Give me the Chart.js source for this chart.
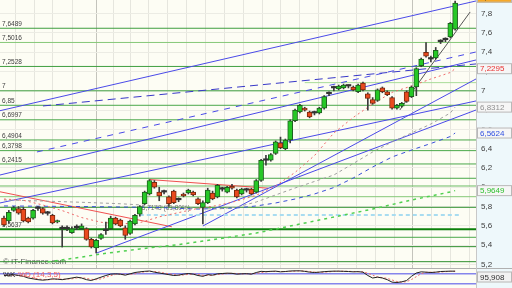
<!DOCTYPE html>
<html>
<head>
<meta charset="utf-8">
<script src="https://cdn.jsdelivr.net/npm/chart.js@4.4.1/dist/chart.umd.min.js"></script>
<style>
    html, body { margin: 0; padding: 0; background: #eef8fb; }
    #wrap { position: relative; width: 512px; height: 288px; overflow: hidden; }
    #main { position: absolute; left: 0; top: 0; }
    #osc { position: absolute; left: 0; top: 268px; }
</style>
</head>
<body>
<div id="wrap">
    <canvas id="main" width="512" height="268"></canvas>
    <canvas id="osc" width="512" height="20"></canvas>
</div>
<script>
// candle index range shown on the x axis, price range on the y axis
const X_MIN = -0.82;
const X_MAX = 97.3;
const Y_MIN = 5.1625;
const Y_MAX = 7.942;

const opens = [5.68, 5.65, 5.76, 5.78, 5.77, 5.68, 5.68, 5.78, 5.78, 5.73,
    5.71, 5.64, 5.57, 5.57, 5.53, 5.58, 5.57, 5.57, 5.46, 5.37,
    5.47, 5.55, 5.57, 5.68, 5.66, 5.58, 5.52, 5.62, 5.72, 5.83,
    5.93, 6.05, 5.95, 5.95, 5.90, 5.96, 5.87, 5.93, 5.94, 5.95,
    5.88, 5.79, 5.84, 5.94, 5.90, 5.98, 5.95, 6.01, 5.97, 5.93,
    5.97, 5.98, 5.95, 6.07, 6.28, 6.28, 6.35, 6.46, 6.40, 6.49,
    6.69, 6.78, 6.82, 6.78, 6.77, 6.77, 6.82, 6.97, 7.03, 7.02,
    7.03, 7.05, 7.04, 6.99, 7.08, 6.97, 6.91, 6.90, 7.03, 6.99,
    6.93, 6.82, 6.84, 6.99, 6.94, 7.04, 7.26, 7.40, 7.33, 7.34,
    7.51, 7.53, 7.56, 7.64];
const highs = [5.70, 5.76, 5.80, 5.80, 5.79, 5.69, 5.77, 5.80, 5.79, 5.75,
    5.72, 5.66, 5.60, 5.60, 5.59, 5.61, 5.62, 5.58, 5.47, 5.46,
    5.52, 5.64, 5.70, 5.69, 5.67, 5.60, 5.66, 5.72, 5.81, 5.96,
    6.08, 6.07, 6.00, 5.97, 5.91, 5.97, 5.89, 5.94, 5.98, 5.96,
    5.89, 5.86, 5.99, 5.96, 6.03, 6.00, 6.01, 6.03, 5.98, 5.99,
    5.99, 5.99, 6.08, 6.29, 6.33, 6.35, 6.48, 6.52, 6.50, 6.70,
    6.81, 6.86, 6.83, 6.79, 6.79, 6.83, 6.95, 6.99, 7.05, 7.06,
    7.07, 7.06, 7.05, 7.07, 7.09, 6.98, 6.93, 7.02, 7.04, 7.00,
    6.94, 6.86, 6.88, 7.00, 7.05, 7.24, 7.34, 7.50, 7.36, 7.45,
    7.53, 7.55, 7.71, 7.93];
const lows = [5.60, 5.63, 5.75, 5.72, 5.64, 5.63, 5.67, 5.76, 5.72, 5.71,
    5.62, 5.63, 5.38, 5.55, 5.52, 5.56, 5.56, 5.45, 5.37, 5.32,
    5.46, 5.51, 5.56, 5.61, 5.59, 5.46, 5.51, 5.61, 5.70, 5.82,
    5.92, 5.99, 5.86, 5.93, 5.80, 5.83, 5.85, 5.90, 5.93, 5.91,
    5.82, 5.62, 5.83, 5.87, 5.89, 5.96, 5.94, 5.98, 5.89, 5.92,
    5.95, 5.92, 5.94, 6.06, 6.23, 6.27, 6.34, 6.40, 6.39, 6.46,
    6.68, 6.77, 6.79, 6.72, 6.75, 6.76, 6.81, 6.95, 7.00, 7.01,
    7.02, 7.03, 7.00, 6.98, 7.00, 6.80, 6.86, 6.89, 6.98, 6.95,
    6.81, 6.81, 6.83, 6.88, 6.93, 6.95, 7.25, 7.35, 7.30, 7.33,
    7.49, 7.51, 7.55, 7.63];
const closes = [5.61, 5.74, 5.79, 5.73, 5.65, 5.64, 5.76, 5.78, 5.73, 5.73,
    5.63, 5.65, 5.57, 5.57, 5.57, 5.58, 5.60, 5.46, 5.38, 5.45,
    5.51, 5.55, 5.68, 5.62, 5.60, 5.50, 5.65, 5.71, 5.80, 5.95,
    6.07, 6.00, 5.91, 5.95, 5.83, 5.84, 5.87, 5.91, 5.97, 5.92,
    5.83, 5.84, 5.97, 5.88, 6.02, 5.98, 6.00, 5.99, 5.90, 5.98,
    5.97, 5.93, 6.07, 6.28, 6.28, 6.34, 6.47, 6.41, 6.49, 6.69,
    6.80, 6.85, 6.80, 6.73, 6.77, 6.82, 6.94, 6.97, 7.03, 7.05,
    7.06, 7.05, 7.01, 7.06, 7.01, 6.92, 6.87, 7.01, 6.99, 6.96,
    6.82, 6.85, 6.87, 6.89, 7.04, 7.23, 7.33, 7.36, 7.33, 7.42,
    7.51, 7.53, 7.70, 7.91];

// moving averages, read at some candle indices
const maRedIdx = [0, 4, 8, 12, 16, 20, 24, 28, 32, 36, 40, 44, 48, 52, 56, 60, 64, 68, 72, 76, 80, 84, 88, 92, 93];
const maRedVal = [5.878, 5.865, 5.816, 5.758, 5.686, 5.637, 5.619, 5.633, 5.693, 5.737, 5.781, 5.811, 5.857,
    5.917, 6.013, 6.154, 6.328, 6.563, 6.724, 6.864, 6.984, 7.05, 7.123, 7.19, 7.2295];
const maGrayIdx = [0, 8, 16, 24, 32, 40, 44, 48, 52, 56, 60, 64, 68, 72, 76, 80, 84, 88, 92, 93];
const maGrayVal = [5.868, 5.857, 5.844, 5.829, 5.805, 5.78, 5.774, 5.795, 5.847, 5.92, 5.992, 6.06, 6.127,
    6.246, 6.366, 6.47, 6.563, 6.656, 6.77, 6.8312];
const maBlueIdx = [0, 16, 32, 40, 48, 52, 56, 60, 64, 68, 72, 76, 80, 84, 88, 92, 93];
const maBlueVal = [5.806, 5.80, 5.79, 5.774, 5.785, 5.806, 5.837, 5.878, 5.93, 5.997, 6.096, 6.21, 6.314,
    6.386, 6.454, 6.526, 6.5624];
const maGreenIdx = [9, 16, 20, 28, 36, 44, 52, 60, 68, 76, 84, 92, 93];
const maGreenVal = [5.225, 5.276, 5.308, 5.36, 5.406, 5.463, 5.525, 5.608, 5.691, 5.774, 5.868, 5.951, 5.9649];

// horizontal support / resistance levels
const levelValues = [7.6489, 7.5016, 7.2528, 7.0, 6.85, 6.6997, 6.4904, 6.3798, 6.2415,
    6.093, 6.013, 5.902, 5.792, 5.5637, 5.481, 5.384, 5.228];
const levelLabels = ['7,6489', '7,5016', '7,2528', '7', '6,85', '6,6997', '6,4904', '6,3798', '6,2415',
    '', '', '', '', '5,5637', '', '', ''];
const levelColors = ['#3f9f3f', '#86c878', '#3f9f3f', '#3f9f3f', '#4aa84a', '#4aa84a', '#4aa84a', '#4aa84a', '#4aa84a',
    '#4aa84a', '#6cbc64', '#86c878', '#2f8f2f', '#0c800c', '#4aa84a', '#2f8f2f', '#2f8f2f'];

// trend lines: [startIndex, startPrice, endIndex, endPrice]
const trendLines = [
    { pts: [-0.82, 6.794, 97.3, 7.932], color: '#4a4ae8', dash: [] },
    { pts: [8.04, 6.843, 97.3, 7.279], color: '#3838c8', dash: [8, 5] },
    { pts: [6.8, 6.366, 97.3, 7.403], color: '#4a4ae8', dash: [6, 6] },
    { pts: [-0.82, 6.127, 97.3, 7.32], color: '#4a4ae8', dash: [] },
    { pts: [-0.82, 5.837, 97.3, 6.895], color: '#4a4ae8', dash: [] },
    { pts: [19.1, 5.318, 97.3, 6.801], color: '#4a4ae8', dash: [] },
    { pts: [41, 5.598, 97.3, 7.123], color: '#4a4ae8', dash: [] },
    { pts: [-0.82, 5.953, 34.6, 5.59], color: '#f05050', dash: [] },
    { pts: [30, 6.08, 54.5, 5.99], color: '#f05050', dash: [] },
    { pts: [62, 7.085, 97.3, 7.085], color: '#a8dc98', dash: [] }
];
const curveIdx = [81.6, 84.7, 87.8, 90.9, 94, 96.1];
const curveVal = [6.801, 7.029, 7.247, 7.455, 7.673, 7.818];

const fiboValue = 5.712;
const fiboStart = 28;
const fiboEnd = 94;
const fiboLabel = '5,7148 (61,80%)';

// value boxes on the right axis
const boxValues = [7.2295, 6.8312, 6.5624, 5.9649];
const boxColors = ['#e83030', '#909090', '#3050e0', '#30c030'];
const lastLabel = '7,91';

// weekly grid positions (candle index); month starts drawn darker
const gridWeeks = [2.3, 6.2, 10.1, 14.2, 19, 22.5, 26.1, 29.8, 33.7, 37.6, 41.5, 45.4, 49.3, 53.2, 57.1,
    61, 64.9, 68.8, 72.7, 76.6, 80.5, 84.3, 88.2, 92.1, 96];
const monthWeeks = [19, 84.3];

// stochastic oscillator
const kValues = [70, 72, 75, 70, 65, 55, 50, 45, 42, 45, 50, 48, 45, 50, 55, 60, 55, 45, 40, 50,
    60, 70, 78, 80, 78, 72, 80, 88, 92, 95, 97, 90, 85, 80, 75, 70, 72, 78, 82, 78,
    70, 65, 75, 72, 80, 82, 84, 83, 78, 80, 81, 78, 88, 95, 93, 95, 96, 92, 94, 97,
    98, 98, 95, 90, 88, 90, 93, 95, 96, 96, 95, 94, 92, 93, 90, 70, 55, 60, 55, 45,
    30, 28, 32, 40, 65, 85, 92, 90, 88, 90, 94, 95, 96, 95.9];
const dValues = [72, 71, 72, 72, 70, 63, 57, 50, 46, 44, 46, 48, 48, 48, 50, 55, 57, 53, 47, 45,
    50, 60, 69, 76, 79, 77, 77, 80, 87, 92, 95, 94, 91, 85, 80, 75, 72, 73, 77, 79,
    77, 71, 70, 71, 76, 78, 82, 83, 82, 80, 80, 80, 82, 87, 92, 94, 95, 94, 94, 94,
    96, 98, 97, 94, 91, 89, 90, 92, 95, 96, 96, 95, 94, 93, 92, 84, 72, 62, 57, 53,
    43, 34, 30, 33, 46, 63, 81, 89, 90, 89, 91, 93, 95, 95.5];
const oscLevels = [80, 20];

function formatComma(value) {
    return String(value).replace('.', ',');
}

function candleFill(i) {
    if (closes[i] > opens[i]) return '#26c826';
    if (closes[i] < opens[i]) return '#ea4a1e';
    return '#333333';
}

function candleBorder(i) {
    if (closes[i] > opens[i]) return '#1f5f1f';
    if (closes[i] < opens[i]) return '#7a2a10';
    return '#333333';
}

function pointsOf(idx, vals) {
    return idx.map((x, k) => ({ x, y: vals[k] }));
}

function lineDataset(data, color, width, dash, order) {
    return {
        type: 'line',
        data,
        borderColor: color,
        borderWidth: width,
        borderDash: dash,
        pointRadius: 0,
        fill: false,
        tension: 0,
        order
    };
}

const candleIndex = opens.map((_, i) => i);

const datasets = [
    {
        type: 'bar',
        data: candleIndex.map((i) => ({ x: i, y: [lows[i], highs[i]] })),
        backgroundColor: '#3c3c3c',
        barThickness: 1,
        grouped: false,
        order: 1
    },
    {
        type: 'bar',
        data: candleIndex.map((i) => ({ x: i, y: [Math.min(opens[i], closes[i]), Math.max(opens[i], closes[i])] })),
        backgroundColor: candleIndex.map(candleFill),
        borderColor: candleIndex.map(candleBorder),
        borderWidth: candleIndex.map((i) => (opens[i] === closes[i] ? 0 : 1)),
        borderSkipped: false,
        barThickness: 5,
        minBarLength: 1.5,
        grouped: false,
        order: 0
    },
    lineDataset(pointsOf(maRedIdx, maRedVal), '#f06a6a', 1, [2, 3], 2),
    lineDataset(pointsOf(maGrayIdx, maGrayVal), '#a0a0a0', 1, [3, 3], 2),
    lineDataset(pointsOf(maBlueIdx, maBlueVal), '#3a50d8', 1, [4, 4], 2),
    lineDataset(pointsOf(maGreenIdx, maGreenVal), '#50d050', 1.5, [3, 4], 2),
    lineDataset(pointsOf(curveIdx, curveVal), '#555555', 1, [], 2),
    lineDataset([{ x: fiboStart, y: fiboValue }, { x: fiboEnd, y: fiboValue }], '#a8dcf0', 2, [4, 3], 3)
];

trendLines.forEach((line) => {
    const [x0, y0, x1, y1] = line.pts;
    datasets.push(lineDataset([{ x: x0, y: y0 }, { x: x1, y: y1 }], line.color, 1, line.dash, 3));
});

levelValues.forEach((value, k) => {
    const width = value === 5.5637 ? 2 : 1;
    datasets.push(lineDataset([{ x: X_MIN, y: value }, { x: X_MAX, y: value }], levelColors[k], width, [], 4));
});

function drawBox(ctx, x, y, w, h, text, color, fill) {
    ctx.fillStyle = fill;
    ctx.fillRect(x, y - h / 2, w, h);
    ctx.strokeStyle = '#b8b8b8';
    ctx.lineWidth = 1;
    ctx.strokeRect(x + 0.5, y - h / 2 + 0.5, w - 1, h - 1);
    ctx.fillStyle = color;
    ctx.textAlign = 'left';
    ctx.textBaseline = 'middle';
    ctx.fillText(text, x + 3, y + 0.5);
}

const mainDecor = {
    id: 'mainDecor',
    beforeDraw(chart) {
        const { ctx, chartArea } = chart;
        ctx.save();
        ctx.fillStyle = '#fdfdf4';
        ctx.fillRect(chartArea.left, chartArea.top, chartArea.right - chartArea.left, chartArea.bottom - chartArea.top);
        ctx.restore();
    },
    beforeDatasetsDraw(chart) {
        const { ctx, scales } = chart;
        ctx.save();
        ctx.font = '6.5px "Liberation Sans", sans-serif';
        ctx.fillStyle = '#404040';
        ctx.textBaseline = 'bottom';
        levelValues.forEach((value, k) => {
            if (!levelLabels[k]) return;
            ctx.fillText(levelLabels[k], 2, scales.y.getPixelForValue(value) - 1);
        });
        ctx.fillStyle = '#707070';
        ctx.fillText(fiboLabel, scales.x.getPixelForValue(fiboStart) + 2, scales.y.getPixelForValue(fiboValue) - 4);
        ctx.font = '8px "Liberation Sans", sans-serif';
        ctx.fillStyle = '#606060';
        ctx.fillText('\u00a9 IT-Finance.com', 3, 266);
        ctx.restore();
    },
    afterDraw(chart) {
        const { ctx, scales } = chart;
        ctx.save();
        ctx.font = '8px "Liberation Sans", sans-serif';
        boxValues.forEach((value, k) => {
            drawBox(ctx, 477, scales.y.getPixelForValue(value), 35, 11, formatComma(value), boxColors[k], '#f6f6f6');
        });
        // last price tag sits above the top of the plot, only its lower edge shows
        drawBox(ctx, 477, scales.y.getPixelForValue(highs[highs.length - 1]) - 4, 35, 11, lastLabel, '#303030', '#f7a928');
        ctx.restore();
    }
};

new Chart(document.getElementById('main'), {
    type: 'bar',
    data: { datasets },
    plugins: [mainDecor],
    options: {
        responsive: false,
        animation: false,
        layout: { padding: 0 },
        plugins: { legend: { display: false }, tooltip: { enabled: false } },
        scales: {
            x: {
                type: 'linear',
                min: X_MIN,
                max: X_MAX,
                offset: false,
                afterBuildTicks: (scale) => { scale.ticks = gridWeeks.map((value) => ({ value })); },
                afterFit: (scale) => { scale.height = 0; },
                ticks: { display: false },
                border: { display: false },
                grid: {
                    offset: false,
                    drawTicks: false,
                    color: (ctx) => (ctx.tick && monthWeeks.includes(ctx.tick.value) ? '#c4c4bc' : '#e6e6de')
                }
            },
            y: {
                type: 'linear',
                position: 'right',
                min: Y_MIN,
                max: Y_MAX,
                beginAtZero: false,
                afterFit: (scale) => { scale.width = 36; scale.paddingTop = 0; scale.paddingBottom = 0; },
                ticks: {
                    stepSize: 0.1,
                    includeBounds: false,
                    padding: 5,
                    color: '#404040',
                    font: { family: 'Liberation Sans', size: 8 },
                    callback: (value) => (Math.round(value * 10) % 2 === 0 ? formatComma(Math.round(value * 10) / 10) : '')
                },
                border: { color: '#c8c8c8' },
                grid: { color: '#ececE4', drawTicks: false }
            }
        }
    }
});

const oscDecor = {
    id: 'oscDecor',
    beforeDraw(chart) {
        const { ctx, chartArea } = chart;
        ctx.save();
        ctx.fillStyle = '#fdfdf4';
        ctx.fillRect(chartArea.left, chartArea.top, chartArea.right - chartArea.left, chartArea.bottom - chartArea.top);
        ctx.strokeStyle = '#b0b0b0';
        ctx.beginPath();
        ctx.moveTo(0, 0.5);
        ctx.lineTo(512, 0.5);
        ctx.stroke();
        ctx.restore();
    },
    afterDraw(chart) {
        const { ctx } = chart;
        ctx.save();
        ctx.font = '8px "Liberation Sans", sans-serif';
        ctx.textBaseline = 'middle';
        ctx.fillStyle = '#202020';
        ctx.fillText('%K', 3, 7);
        ctx.fillStyle = '#f06060';
        ctx.fillText('%D (14,3,5)', 18, 7);
        drawBox(ctx, 477, 9, 35, 11, formatComma(95.908), '#303030', '#f2f2f2');
        ctx.restore();
    }
};

new Chart(document.getElementById('osc'), {
    type: 'line',
    data: {
        datasets: [
            lineDataset(pointsOf(candleIndex, kValues), '#202020', 1, [], 0),
            lineDataset(pointsOf(candleIndex, dValues), '#f07070', 1, [2, 2], 1),
            ...oscLevels.map((v) => lineDataset([{ x: X_MIN, y: v }, { x: X_MAX, y: v }], '#4a4ae8', 1, [], 2))
        ]
    },
    plugins: [oscDecor],
    options: {
        responsive: false,
        animation: false,
        layout: { padding: 0 },
        plugins: { legend: { display: false }, tooltip: { enabled: false } },
        scales: {
            x: {
                type: 'linear',
                min: X_MIN,
                max: X_MAX,
                afterFit: (scale) => { scale.height = 0; },
                ticks: { display: false },
                border: { display: false },
                grid: { display: false }
            },
            y: {
                position: 'right',
                min: -5,
                max: 115,
                afterFit: (scale) => { scale.width = 36; scale.paddingTop = 0; scale.paddingBottom = 0; },
                ticks: { display: false },
                border: { color: '#c8c8c8' },
                grid: { display: false }
            }
        }
    }
});
</script>
</body>
</html>
